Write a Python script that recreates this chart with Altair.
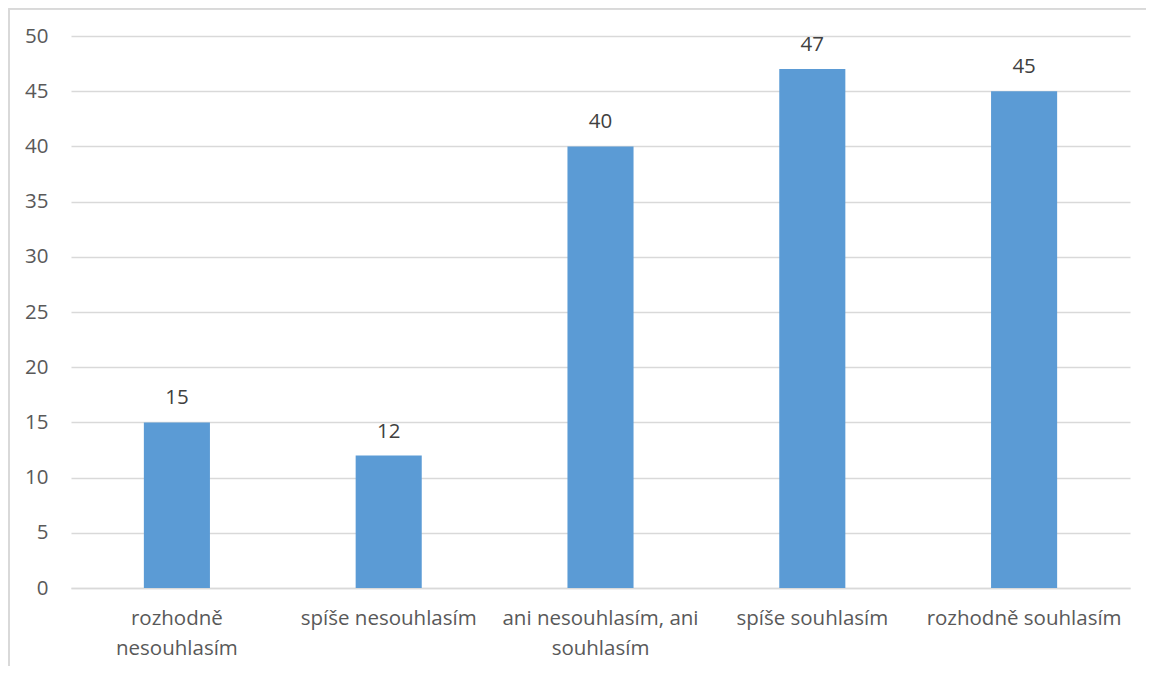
import altair as alt
import pandas as pd

categories = ["rozhodně nesouhlasím", "spíše nesouhlasím", "ani nesouhlasím, ani souhlasím",
              "spíše souhlasím", "rozhodně souhlasím"]
values = [15, 12, 40, 47, 45]
label_lines = {
    "rozhodně nesouhlasím": ["rozhodně", "nesouhlasím"],
    "ani nesouhlasím, ani souhlasím": ["ani nesouhlasím, ani", "souhlasím"],
}

df = pd.DataFrame({"cat": categories, "val": values})

FONT = "Open Sans"
TXT = "#595959"
GRID = "#D9D9D9"
FS = 20.5

expr_parts = []
for k, v in label_lines.items():
    arr = "[" + ",".join("'" + s + "'" for s in v) + "]"
    expr_parts.append(f"datum.label == '{k}' ? {arr} : ")
label_expr = "".join(expr_parts) + "datum.label"

x = alt.X("cat:N", sort=categories, title=None,
          scale=alt.Scale(paddingInner=0.688, paddingOuter=0.344),
          axis=alt.Axis(labelAngle=0, labelExpr=label_expr, ticks=False, domain=True,
                        domainColor=GRID, domainWidth=1.3, labelPadding=20,
                        labelFontSize=FS, labelColor=TXT, labelFont=FONT,
                        labelLineHeight=30, labelLimit=260, grid=False))
y = alt.Y("val:Q", title=None,
          scale=alt.Scale(domain=[0, 50], nice=False),
          axis=alt.Axis(values=list(range(0, 51, 5)), ticks=False, domain=False,
                        gridColor=GRID, gridWidth=1.3, labelPadding=23,
                        labelFontSize=FS, labelColor=TXT, labelFont=FONT))

bars = alt.Chart(df).mark_bar(color="#5B9BD5").encode(x=x, y=y)
text = alt.Chart(df).mark_text(baseline="bottom", dy=-14, fontSize=FS, font=FONT,
                               color="#404040").encode(x=alt.X("cat:N", sort=categories),
                                                       y="val:Q", text="val:Q")

border = alt.Chart(df).mark_rule(color=GRID, strokeWidth=1.5).encode(
    x=alt.value(-62.2), x2=alt.value(1100), y=alt.value(-27.2))
border2 = alt.Chart(df).mark_rule(color=GRID, strokeWidth=1.5).encode(
    x=alt.value(-62.2), y=alt.value(-27.2), y2=alt.value(660))

chart = alt.layer(border, border2, bars, text).properties(
    width=1059, height=552,
    autosize=alt.AutoSizeParams(type="none"),
    padding={"left": 63, "top": 28, "right": 16, "bottom": 78},
).configure_view(stroke=None)

chart.save("out.html", embed_options={"renderer": "svg", "actions": False})
